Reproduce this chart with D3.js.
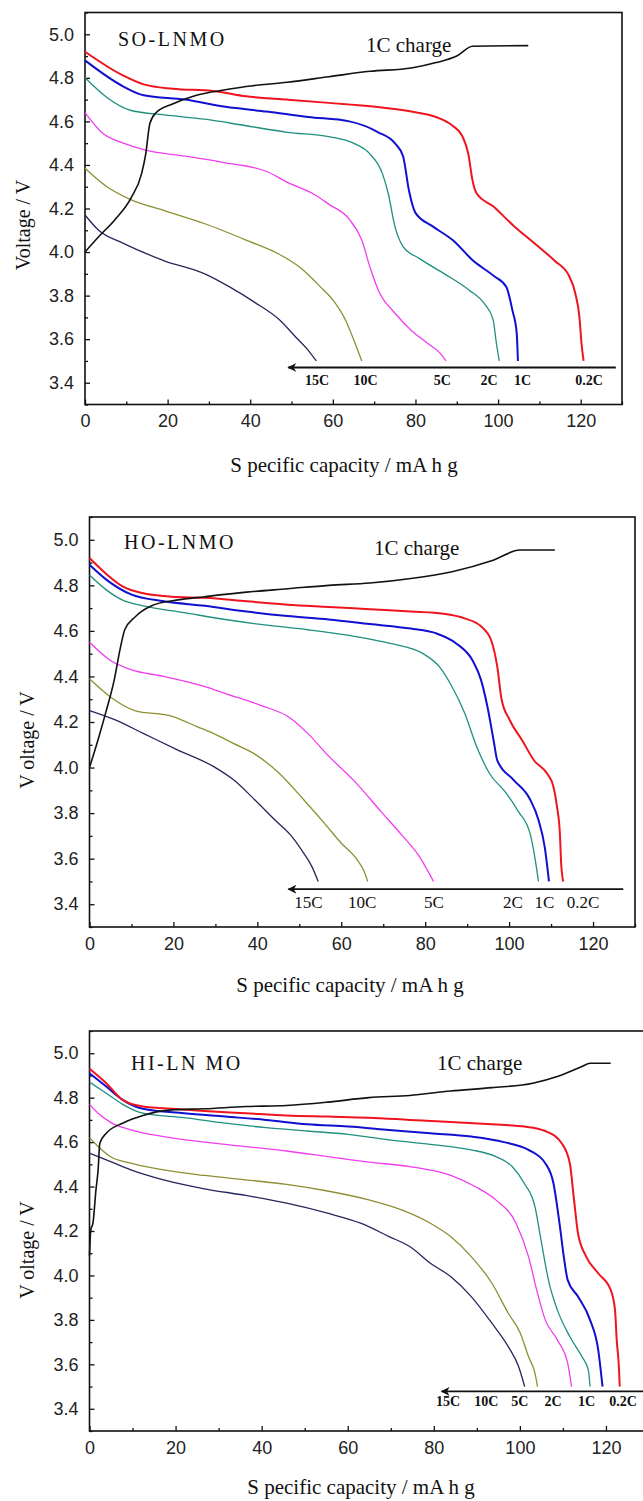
<!DOCTYPE html>
<html>
<head>
<meta charset="utf-8">
<script src="https://cdn.jsdelivr.net/npm/d3@7"></script>
<style>
  body { margin: 0; background: #fff; }
</style>
</head>
<body>
<div id="chart"></div>
<script>
// rates, in the order they are drawn (fastest first)
const rates = ["15C", "10C", "5C", "2C", "1C", "0.2C"];
const yTicks = [3.4, 3.6, 3.8, 4.0, 4.2, 4.4, 4.6, 4.8, 5.0];
const yMinor = [3.3, 3.5, 3.7, 3.9, 4.1, 4.3, 4.5, 4.7, 4.9, 5.1];
const xTicks = [0, 20, 40, 60, 80, 100, 120];
const xMinor = [10, 30, 50, 70, 90, 110, 130];

// SO-LNMO  [capacity mAh/g, voltage V]
const so15C = [[0,4.17],[3.3,4.10],[9.3,4.04],[19.2,3.96],[29,3.90],[35,3.84],[41,3.77],[47,3.69],[51,3.61],[54,3.55],[56,3.50]];
const so10C = [[0,4.385],[5.3,4.30],[11.2,4.24],[19.2,4.19],[29,4.13],[39,4.055],[47,3.99],[52,3.93],[57,3.84],[60,3.78],[63,3.69],[65,3.60],[67,3.50]];
const so5C = [[0,4.64],[4.3,4.545],[9.3,4.50],[14.2,4.47],[24.2,4.44],[34,4.41],[44,4.37],[49,4.32],[55,4.27],[59,4.22],[64,4.15],[67,4.055],[69,3.93],[71,3.825],[75,3.72],[79,3.64],[83,3.58],[86,3.535],[87.4,3.50]];
const so2C = [[0,4.80],[5.3,4.71],[11.2,4.65],[19.2,4.63],[29,4.61],[39,4.58],[49,4.55],[59,4.53],[65,4.50],[69,4.45],[72,4.36],[73.4,4.27],[75,4.12],[77,4.025],[81,3.97],[87,3.90],[93,3.825],[96.8,3.76],[98.8,3.69],[99.6,3.58],[100.3,3.50]];
const so1C = [[0,4.88],[9.3,4.76],[14.2,4.72],[24.2,4.70],[34,4.667],[44,4.645],[54,4.62],[64,4.60],[71,4.55],[75,4.50],[77,4.44],[78.4,4.285],[80,4.18],[84,4.12],[89,4.055],[94,3.96],[99,3.89],[102,3.84],[103.5,3.73],[104.5,3.63],[104.8,3.50]];
const so02C = [[0,4.92],[9.3,4.81],[14.2,4.77],[21.2,4.75],[31,4.74],[39,4.715],[49,4.70],[59,4.685],[69,4.67],[79,4.645],[85,4.62],[89,4.58],[91.4,4.53],[92.8,4.45],[93.8,4.33],[94.8,4.27],[98.8,4.21],[103.8,4.12],[108.8,4.04],[113.7,3.96],[117.2,3.89],[118.7,3.81],[119.7,3.70],[120.2,3.58],[120.7,3.50]];
const soCharge = [[0,4.0],[3.3,4.07],[7.3,4.15],[11.2,4.25],[13.7,4.36],[14.7,4.45],[15.7,4.59],[17.2,4.64],[21.2,4.68],[27,4.72],[34,4.745],[39,4.76],[49,4.78],[59,4.805],[69,4.83],[79,4.845],[85,4.87],[90,4.90],[93.8,4.945],[107.3,4.948]];

// HO-LNMO
const ho15C = [[0,4.25],[6,4.21],[12.8,4.15],[20.7,4.08],[29.5,4.005],[34.4,3.945],[39.3,3.86],[44.2,3.77],[48.1,3.70],[51,3.625],[53,3.565],[54.5,3.50]];
const ho10C = [[0,4.39],[5,4.31],[10.8,4.25],[19.7,4.225],[25.6,4.18],[29.5,4.15],[34.4,4.105],[39.3,4.06],[45.2,3.975],[51,3.86],[56,3.755],[59.9,3.67],[63.8,3.595],[65.3,3.55],[66.3,3.50]];
const ho5C = [[0,4.55],[5,4.47],[9.9,4.43],[17.7,4.40],[27.5,4.355],[32.4,4.325],[41.3,4.27],[47.2,4.225],[52,4.15],[57,4.05],[62.9,3.945],[69.8,3.80],[74.6,3.70],[78.6,3.61],[80.5,3.55],[82,3.50]];
const ho2C = [[0,4.845],[4,4.78],[7.9,4.735],[12.8,4.71],[22.6,4.68],[32.4,4.65],[42.3,4.625],[52,4.605],[61.9,4.58],[71.7,4.545],[79.5,4.50],[83.5,4.44],[86.4,4.355],[89.4,4.24],[92.3,4.09],[95.3,3.975],[99.2,3.89],[102.1,3.81],[105,3.71],[106,3.62],[107,3.50]];
const ho1C = [[0,4.89],[4,4.825],[9.9,4.76],[17.7,4.73],[27.5,4.71],[37.4,4.685],[47.2,4.665],[57,4.65],[66.8,4.63],[76.6,4.61],[82.5,4.59],[87.4,4.545],[91.3,4.47],[93.3,4.385],[94.8,4.27],[96.3,4.12],[97.2,4.03],[101.1,3.945],[105,3.86],[107,3.77],[108.5,3.65],[109.5,3.50]];
const ho02C = [[0,4.92],[4,4.85],[7.9,4.795],[12.8,4.765],[19.7,4.75],[27.5,4.745],[37.4,4.73],[47.2,4.715],[57,4.705],[66.8,4.695],[76.6,4.685],[84.4,4.675],[89.4,4.655],[93.3,4.62],[95.7,4.56],[97.2,4.44],[98.2,4.30],[100.1,4.21],[103.1,4.12],[106,4.03],[109,3.975],[110.5,3.92],[111.4,3.83],[112.1,3.71],[112.4,3.58],[112.9,3.50]];
const hoCharge = [[0,4.0],[2,4.12],[4,4.25],[5.9,4.385],[7.4,4.53],[8.4,4.605],[10.8,4.66],[14.8,4.71],[20.7,4.735],[27.5,4.75],[37.4,4.77],[47.2,4.785],[57,4.80],[66.8,4.81],[76.6,4.83],[86.4,4.86],[96.2,4.91],[102.6,4.955],[110.9,4.955]];

// HI-LNMO
const hi15C = [[0,4.55],[3.9,4.52],[9.6,4.475],[17.2,4.43],[26.7,4.39],[36.3,4.36],[45.8,4.325],[55.3,4.28],[63,4.235],[69.6,4.175],[74.4,4.13],[79.2,4.055],[83.9,3.995],[88.7,3.905],[93.5,3.785],[97.3,3.68],[99.7,3.59],[101.1,3.50]];
const hi10C = [[0,4.62],[2,4.58],[4.8,4.535],[9.6,4.505],[17.2,4.475],[26.7,4.45],[36.3,4.43],[45.8,4.41],[55.3,4.38],[64.9,4.34],[72.5,4.295],[79.2,4.235],[83.9,4.175],[88.7,4.085],[93.5,3.965],[97.3,3.83],[100.1,3.74],[102,3.635],[103.5,3.56],[104.1,3.50]];
const hi5C = [[0,4.77],[2,4.73],[4.8,4.69],[9.6,4.655],[17.2,4.625],[26.7,4.60],[36.3,4.58],[45.8,4.56],[55.3,4.535],[64.9,4.51],[74.4,4.49],[83.9,4.45],[89.6,4.40],[94.4,4.34],[99.1,4.235],[102,4.085],[103.9,3.935],[105.9,3.80],[108.7,3.71],[111.1,3.605],[112,3.50]];
const hi2C = [[0,4.87],[3.9,4.82],[7.7,4.77],[12.4,4.73],[22,4.71],[31.5,4.685],[41,4.665],[50.6,4.65],[60.1,4.635],[69.6,4.61],[79.2,4.59],[88.7,4.565],[94.4,4.535],[98.2,4.49],[101,4.415],[103.5,4.31],[104.9,4.16],[106.8,3.965],[108.7,3.845],[111.6,3.725],[114.4,3.635],[115.9,3.575],[116.3,3.50]];
const hi1C = [[0,4.91],[3.9,4.85],[7.7,4.79],[12.4,4.75],[22,4.73],[31.5,4.715],[41,4.70],[50.6,4.68],[60.1,4.67],[69.6,4.655],[79.2,4.64],[88.7,4.625],[96.3,4.60],[102,4.565],[105.9,4.505],[107.8,4.415],[109.2,4.235],[110.2,4.085],[111.1,3.98],[113.5,3.905],[116.3,3.80],[118.2,3.665],[119.2,3.50]];
const hi02C = [[0,4.93],[3.9,4.865],[7.7,4.79],[12.4,4.76],[19.1,4.75],[26.7,4.74],[36.3,4.73],[45.8,4.72],[55.3,4.715],[64.9,4.71],[74.4,4.70],[83.9,4.69],[93.5,4.68],[101.1,4.67],[105.9,4.65],[109.7,4.595],[111.6,4.505],[112.5,4.355],[113.5,4.19],[115.4,4.085],[118.2,4.01],[121.1,3.935],[122.1,3.845],[122.5,3.71],[123,3.59],[123.2,3.50]];
const hiCharge = [[0,4.09],[0.3,4.205],[0.8,4.235],[1.5,4.385],[2,4.475],[2.4,4.595],[3.9,4.64],[7.7,4.685],[12.4,4.72],[19.1,4.745],[26.7,4.75],[36.3,4.76],[45.8,4.765],[55.3,4.78],[64.9,4.80],[74.4,4.81],[83.9,4.83],[93.5,4.845],[103,4.865],[108.7,4.895],[114.4,4.94],[116.3,4.955],[121.1,4.955]];

// line colour and width per rate
const rateColor = ["#26265e", "#8e8e34", "#f03cf0", "#1f8f80", "#1010d0", "#f0141e"];
const rateWidth = [1.3, 1.3, 1.3, 1.3, 2, 2];

let width = 643, height = 1501;
let svg = d3.select('#chart').append('svg')
    .attr('width', width)
    .attr('height', height)
    .style('display', 'block');

// layout of each panel, in pixels; label/arrow spots in data units
let panels = [
  {title: "SO-LNMO", yTitle: "Voltage / V", series: [so15C, so10C, so5C, so2C, so1C, so02C], charge: soCharge,
   box: {l: 85, r: 622, t: 12.5, b: 404.5}, titleX: 118, titleY: 39, chargeX: 366, chargeY: 45,
   yTitleX: 23, yTitleY: 225, xTitleX: 344, xTitleY: 465,
   arrow: [49.2, 128.5, 3.47], labelV: 3.41, labelCap: [56.2, 67.9, 86.5, 97.8, 105.9, 122], labelBold: true},
  {title: "HO-LNMO", yTitle: "V oltage / V", series: [ho15C, ho10C, ho5C, ho2C, ho1C, ho02C], charge: hoCharge,
   box: {l: 89.5, r: 635, t: 517, b: 927}, titleX: 124, titleY: 542, chargeX: 374, chargeY: 548,
   yTitleX: 27, yTitleY: 740, xTitleX: 350, xTitleY: 985,
   arrow: [47.4, 127.2, 3.466], labelV: 3.41, labelCap: [52.2, 65, 82.1, 100.9, 108.4, 117.6], labelBold: false},
  {title: "HI-LN MO", yTitle: "V oltage / V", series: [hi15C, hi10C, hi5C, hi2C, hi1C, hi02C], charge: hiCharge,
   box: {l: 89.5, r: 649, t: 1031, b: 1431}, titleX: 131, titleY: 1063, chargeX: 437, chargeY: 1063,
   yTitleX: 27, yTitleY: 1250, xTitleX: 361, xTitleY: 1487,
   arrow: [81.8, 131, 3.478], labelV: 3.433, labelCap: [83.3, 92.2, 100, 107.7, 115.5, 124], labelBold: true}
];

let defs = svg.append('defs');
defs.append('marker')
    .attr('id', 'arrowhead')
    .attr('viewBox', '0 0 10 10')
    .attr('refX', 9).attr('refY', 5)
    .attr('markerWidth', 5).attr('markerHeight', 5)
    .attr('orient', 'auto')
    .append('path')
    .attr('d', 'M10,5 L0,0 L3,5 L0,10 Z')
    .attr('fill', '#111');

panels.forEach(function (p) {
    let x = d3.scaleLinear().domain([0, 130]).range([p.box.l, p.box.r]);
    let y = d3.scaleLinear().domain([3.3, 5.1]).range([p.box.b, p.box.t]);
    let g = svg.append('g');

    //Y Axis, ticks pointing inwards
    g.append('g').attr('transform', 'translate(' + p.box.l + ',0)')
        .call(d3.axisLeft(y).tickValues(yTicks).tickSize(-5).tickPadding(11).tickFormat(d3.format('.1f')));
    g.append('g').attr('transform', 'translate(' + p.box.l + ',0)')
        .call(d3.axisLeft(y).tickValues(yMinor).tickSize(-3).tickFormat(''));

    //X Axis
    g.append('g').attr('transform', 'translate(0,' + p.box.b + ')')
        .call(d3.axisBottom(x).tickValues(xTicks).tickSize(-5).tickPadding(10));
    g.append('g').attr('transform', 'translate(0,' + p.box.b + ')')
        .call(d3.axisBottom(x).tickValues(xMinor).tickSize(-3).tickFormat(''));

    g.selectAll('.domain').remove();
    g.selectAll('.tick line').attr('stroke', '#111').attr('stroke-width', 1.3);
    g.selectAll('.tick text')
        .attr('font-family', 'Liberation Sans, Arial, sans-serif')
        .attr('font-size', '18px')
        .attr('fill', '#222');

    // frame
    g.append('rect')
        .attr('x', p.box.l).attr('y', p.box.t)
        .attr('width', p.box.r - p.box.l).attr('height', p.box.b - p.box.t)
        .attr('fill', 'none').attr('stroke', '#111').attr('stroke-width', 1.6);

    let line = d3.line()
        .x(function (d) { return x(d[0]); })
        .y(function (d) { return y(d[1]); })
        .curve(d3.curveMonotoneX);

    g.selectAll('.discharge').data(p.series).enter()
        .append('path')
        .attr('class', 'discharge')
        .attr('d', line)
        .attr('fill', 'none')
        .attr('stroke', function (d, i) { return rateColor[i]; })
        .attr('stroke-width', function (d, i) { return rateWidth[i]; });

    g.append('path')
        .attr('d', line(p.charge))
        .attr('fill', 'none')
        .attr('stroke', '#111')
        .attr('stroke-width', 1.6);

    // arrow showing increasing rate
    g.append('line')
        .attr('x1', x(p.arrow[1])).attr('y1', y(p.arrow[2]))
        .attr('x2', x(p.arrow[0])).attr('y2', y(p.arrow[2]))
        .attr('stroke', '#111').attr('stroke-width', 1.8)
        .attr('marker-end', 'url(#arrowhead)');

    g.selectAll('.rate').data(rates).enter()
        .append('text')
        .attr('class', 'rate')
        .attr('x', function (d, i) { return x(p.labelCap[i]); })
        .attr('y', y(p.labelV))
        .attr('dy', '0.35em')
        .attr('text-anchor', 'middle')
        .attr('font-family', 'Liberation Serif, Times New Roman, serif')
        .attr('font-size', p.labelBold ? '14px' : '17px')
        .attr('font-weight', p.labelBold ? 'bold' : 'normal')
        .attr('fill', '#111')
        .text(function (d) { return d; });

    // panel name
    g.append('text')
        .attr('x', p.titleX).attr('y', p.titleY).attr('dy', '0.35em')
        .attr('font-family', 'Liberation Serif, Times New Roman, serif')
        .attr('font-size', '20px')
        .attr('letter-spacing', '2.5px')
        .attr('fill', '#111')
        .text(p.title);

    g.append('text')
        .attr('x', p.chargeX).attr('y', p.chargeY).attr('dy', '0.35em')
        .attr('font-family', 'Liberation Serif, Times New Roman, serif')
        .attr('font-size', '21px')
        .attr('fill', '#111')
        .text('1C charge');

    //Y Axis Text
    g.append('text')
        .attr('transform', 'translate(' + p.yTitleX + ',' + p.yTitleY + ') rotate(-90)')
        .attr('text-anchor', 'middle')
        .attr('dy', '0.35em')
        .attr('font-family', 'Liberation Serif, Times New Roman, serif')
        .attr('font-size', '20px')
        .attr('fill', '#111')
        .text(p.yTitle);

    //X Axis Text
    g.append('text')
        .attr('x', p.xTitleX).attr('y', p.xTitleY).attr('dy', '0.35em')
        .attr('text-anchor', 'middle')
        .attr('font-family', 'Liberation Serif, Times New Roman, serif')
        .attr('font-size', '21px')
        .attr('fill', '#111')
        .text('S pecific capacity / mA h g');
});
</script>
</body>
</html>
